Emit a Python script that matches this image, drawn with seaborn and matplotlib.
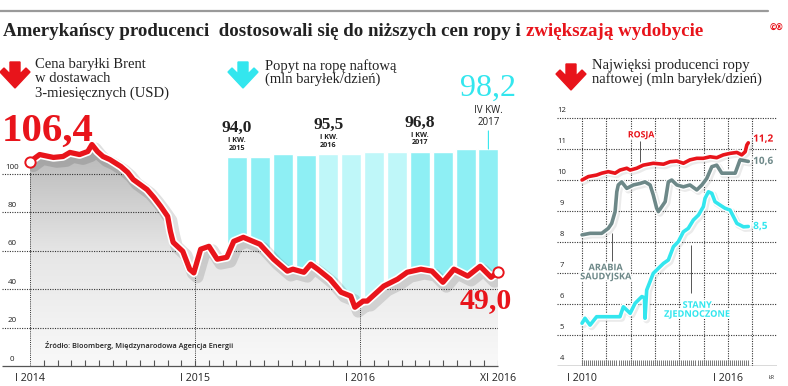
import numpy as np
import matplotlib
matplotlib.use("Agg")
import matplotlib.pyplot as plt
import matplotlib.patheffects as pe
import seaborn as sns
from matplotlib.colors import LinearSegmentedColormap
from matplotlib.patches import Polygon
from matplotlib.lines import Line2D

# --- data --------------------------------------------------------------
# Brent price, x = months since Jan 2014
brent_month = [0.0, 0.7, 1.7, 2.4, 2.9, 3.6, 4.2, 4.5, 4.9, 5.3,
               5.8, 6.6, 7.1, 7.5, 8.0, 8.5, 9.0, 9.5, 10.0, 10.2,
               10.4, 11.1, 11.6, 11.9, 12.4, 13.0, 13.6, 14.3, 14.8, 15.5,
               16.7, 17.7, 18.7, 19.1, 19.9, 20.4, 20.9, 21.8, 22.6, 23.3,
               23.6, 24.2, 24.5, 25.7, 26.7, 27.4, 28.4, 29.2, 30.0, 30.8,
               31.8, 32.7, 33.5, 34.0]
brent_price = [106.4, 110.1, 108.6, 109.1, 111.2, 110.1, 111.7, 115.3, 111.7, 109.1,
               107.5, 103.9, 100.8, 97.1, 94.5, 91.9, 87.8, 83.1, 77.9, 70.1,
               64.4, 59.7, 50.4, 48.5, 60.8, 62.3, 55.6, 56.6, 64.9, 67.0,
               63.4, 55.6, 49.4, 50.4, 48.8, 53.0, 50.4, 45.2, 38.4, 36.4,
               30.6, 33.8, 33.8, 41.6, 45.2, 48.8, 50.4, 49.4, 43.6, 50.4,
               46.8, 51.9, 46.2, 49.0]
price_ticks = [0, 12, 24, 34]
price_tick_labels = ["I 2014", "I 2015", "I 2016", "XI 2016"]
price_grid = [20, 40, 60, 80, 100]

# oil demand, quarterly
quarters = ["I 2015", "II 2015", "III 2015", "IV 2015",
            "I 2016", "II 2016", "III 2016", "IV 2016",
            "I 2017", "II 2017", "III 2017", "IV 2017"]
demand = [94.0, 94.3, 95.7, 95.4, 95.5, 95.6, 96.5, 96.8, 96.8, 96.5, 98.0, 98.2]
demand_labels = {0: ("I KW.", "2015"), 4: ("I KW.", "2016"), 8: ("I KW.", "2017")}

# largest producers, x = year
russia_year = [2010.0, 2010.26, 2010.6, 2010.81, 2011.08, 2011.36, 2011.56, 2011.84, 2011.98, 2012.25,
               2012.52, 2012.93, 2013.35, 2013.62, 2013.9, 2014.17, 2014.44, 2014.72, 2014.99, 2015.27,
               2015.54, 2015.81, 2016.09, 2016.37, 2016.57, 2016.71, 2016.78, 2016.84]
russia_prod = [10.0, 10.11, 10.16, 10.22, 10.27, 10.22, 10.32, 10.38, 10.32, 10.38,
               10.48, 10.54, 10.51, 10.59, 10.61, 10.54, 10.65, 10.7, 10.7, 10.75,
               10.72, 10.81, 10.86, 10.89, 10.81, 10.91, 11.13, 11.2]
saudi_year = [2010.0, 2010.33, 2010.81, 2011.08, 2011.22, 2011.36, 2011.43, 2011.49, 2011.63, 2011.84,
              2012.11, 2012.39, 2012.59, 2012.8, 2012.93, 2013.07, 2013.14, 2013.28, 2013.42, 2013.55,
              2013.69, 2013.9, 2014.17, 2014.44, 2014.72, 2014.93, 2015.13, 2015.34, 2015.54, 2015.75,
              2016.09, 2016.3, 2016.5, 2016.84]
saudi_prod = [8.23, 8.28, 8.28, 8.44, 8.6, 8.98, 9.62, 9.84, 9.94, 9.73,
              9.84, 9.89, 9.94, 9.84, 9.52, 9.09, 8.98, 9.14, 9.3, 9.94,
              10.0, 9.84, 9.78, 9.84, 9.68, 9.84, 10.05, 10.43, 10.48, 10.22,
              10.22, 10.22, 10.65, 10.6]
us_year = [2010.0, 2010.12, 2010.33, 2010.6, 2011.15, 2011.56, 2011.7, 2011.98, 2012.18, 2012.46,
           2012.57, 2012.59, 2012.66, 2012.93, 2013.14, 2013.35, 2013.55, 2013.76, 2013.96, 2014.17,
           2014.37, 2014.58, 2014.79, 2014.99, 2015.06, 2015.2, 2015.34, 2015.47, 2015.68, 2015.88,
           2016.09, 2016.37, 2016.64, 2016.84]
us_prod = [5.38, 5.54, 5.32, 5.59, 5.59, 5.59, 5.91, 5.7, 6.02, 6.24,
           6.2, 5.54, 6.45, 6.99, 7.15, 7.31, 7.42, 7.85, 8.01, 8.33,
           8.44, 8.71, 8.87, 9.14, 9.41, 9.62, 9.57, 9.3, 9.19, 9.09,
           9.03, 8.6, 8.49, 8.5]
prod_grid = [5, 6, 7, 8, 9, 10, 11, 12]
prod_years = [2010, 2011, 2012, 2013, 2014, 2015, 2016, 2017]

# --- style ----------------------------------------------------------------
RED = "#e8141b"
CYAN = "#33e6ee"
GRAYLINE = "#6d8888"
DARK = "#222222"
SERIF = "Liberation Serif"
SANS = "Open Sans"

sns.set_style("white")
plt.rcParams["font.family"] = [SANS, "DejaVu Sans"]

W, H = 788, 386
fig = plt.figure(figsize=(W / 100, H / 100), dpi=100)


def fbox(x0, y0, x1, y1):
    """pixel box (top-left origin) -> figure rect"""
    return [x0 / W, 1 - y1 / H, (x1 - x0) / W, (y1 - y0) / H]


def ftext(x, y, s, **kw):
    return fig.text(x / W, 1 - y / H, s, **kw)


def arrow(cx, top, color):
    shape = [(-5, 0), (5, 0), (5, 12), (11, 6), (15, 10), (0, 26),
             (-15, 10), (-11, 6), (-5, 12)]
    pts = [((cx + dx) / W, 1 - (top + dy) / H) for dx, dy in shape]
    fig.add_artist(Polygon(pts, closed=True, color=color, transform=fig.transFigure))


halo = [pe.Stroke(linewidth=2.5, foreground="white"), pe.Normal()]

# --- header -------------------------------------------------------------
fig.add_artist(Line2D([0, 768 / W], [1 - 11 / H] * 2, color="#9a9a9a", lw=1.6))
t1 = ftext(3, 31, "Amerykańscy producenci  dostosowali się do niższych cen ropy i ",
           family=SERIF, weight="bold", fontsize=13.6, color=DARK, va="center")
renderer = fig.canvas.get_renderer()
bb = t1.get_window_extent(renderer)
fig.text(bb.x1 / W, 1 - 31 / H, "zwiększają wydobycie", family=SERIF, weight="bold",
         fontsize=13.6, color=RED, va="center")
ftext(776, 28, "©®", color=RED, fontsize=6, weight="bold", ha="center", va="center")

arrow(15, 62, RED)
arrow(243, 62, CYAN)
arrow(571, 64, RED)
ftext(35, 58, "Cena baryłki Brent\nw dostawach\n3-miesięcznych (USD)", family=SERIF,
      fontsize=10.5, color=DARK, va="top", linespacing=1.12)
ftext(265, 59, "Popyt na ropę naftową\n(mln baryłek/dzień)", family=SERIF,
      fontsize=10.5, color=DARK, va="top", linespacing=0.98)
ftext(592, 59, "Najwięksi producenci ropy\nnaftowej (mln baryłek/dzień)", family=SERIF,
      fontsize=10.5, color=DARK, va="top", linespacing=0.98)

# --- demand bars (behind the price panel) --------------------------------
axb = fig.add_axes(fbox(30, 100, 498, 366))
bar_colors = ["#8eeff4"] * 4 + ["#bff7f9"] * 4 + ["#8eeff4"] * 4
sns.barplot(x=quarters, y=demand, hue=quarters, hue_order=quarters, order=quarters,
            palette=bar_colors, saturation=1, legend=False, width=0.875, ax=axb)
axb.set_xlim(-9.055, 11.42)
axb.set_ylim(-11.6, 123.0)
axb.axis("off")
for i, (kw, yr) in demand_labels.items():
    v = demand[i]
    axb.annotate(f"{v:.1f}".replace(".", ","), (i, v), xytext=(0, 21), textcoords="offset points",
                 ha="center", va="center", family=SERIF, weight="bold", fontsize=12.5, color=DARK,
                 annotation_clip=False)
    axb.annotate(kw, (i, v), xytext=(0, 12), textcoords="offset points", ha="center",
                 va="center", fontsize=5.2, weight="bold", color=DARK)
    axb.annotate(yr, (i, v), xytext=(0, 6.5), textcoords="offset points", ha="center",
                 va="center", fontsize=5.2, weight="bold", color=DARK)
last = len(demand) - 1
axb.annotate("", (last, demand[last]), xytext=(0, 13), textcoords="offset points",
             arrowprops=dict(arrowstyle="-", color=CYAN, lw=0.8, shrinkA=0, shrinkB=0))
axb.annotate("2017", (last, demand[last]), xytext=(0, 19), textcoords="offset points",
             ha="center", va="center", fontsize=7, color=DARK)
axb.annotate("IV KW.", (last, demand[last]), xytext=(0, 27.5), textcoords="offset points",
             ha="center", va="center", fontsize=7, color=DARK)
axb.annotate(f"{demand[last]:.1f}".replace(".", ","), (last, demand[last]), xytext=(0, 44),
             textcoords="offset points", ha="center", va="center", family=SERIF,
             fontsize=23, color=CYAN, annotation_clip=False)

# --- Brent price panel -------------------------------------------------------
ax = fig.add_axes(fbox(30, 100, 498, 366))
ax.set_zorder(axb.get_zorder() + 1)
ax.patch.set_visible(False)

area = ax.fill_between(brent_month, brent_price, 0, color="none", lw=0)
clip = area.get_paths()[0]
cmap = LinearSegmentedColormap.from_list("fade", ["#f9f9f9", "#e6e6e6", "#b4b4b4"])
grad = np.linspace(0, 1, 256).reshape(-1, 1)
im = ax.imshow(grad, extent=[0, 34, 0, 118], origin="lower", aspect="auto", cmap=cmap, zorder=1)
im.set_clip_path(clip, transform=ax.transData)

dots = (0, (1, 1.2))
hl = ax.hlines(price_grid, 0, 34, colors="#333333", linestyles=dots, lw=0.8, zorder=2)
hl.set_clip_path(clip, transform=ax.transData)
vl = ax.vlines([12, 24], 0, 118, colors="#333333", linestyles=dots, lw=0.7, zorder=2)
vl.set_clip_path(clip, transform=ax.transData)
ax.hlines(price_grid, -2.05, 0, colors="#333333", linestyles=dots, lw=0.8, clip_on=False)
ax.vlines(0, 0, 101, colors="#333333", linestyles=dots, lw=0.7)
ax.hlines(0, -2.05, 34, colors="#555555", lw=0.9, clip_on=False, zorder=3)
ax.vlines(np.arange(1, 35), 0, 3.1, colors="#555555", lw=0.8, zorder=3)
for v in [0] + price_grid:
    ax.text(-1.3, v + 3.6, str(v), ha="center", va="center", fontsize=5.8, color=DARK)

line_fx = [pe.SimpleLineShadow(offset=(2.5, -3), shadow_color="black", alpha=0.12, linewidth=9),
           pe.Stroke(linewidth=6.2, foreground="white"), pe.Normal()]
sns.lineplot(x=brent_month, y=brent_price, ax=ax, color=RED, lw=3.8, zorder=4,
             path_effects=line_fx)
ax.scatter([brent_month[0], brent_month[-1]], [brent_price[0], brent_price[-1]], s=55,
           facecolor="white", edgecolor=RED, lw=1.4, zorder=6, clip_on=False)
ax.text(-2.05, 122.4, f"{brent_price[0]:.1f}".replace(".", ","), family=SERIF, weight="bold",
        fontsize=29.5, color=RED, va="center", ha="left")
ax.text(33.1, 34.0, f"{brent_price[-1]:.1f}".replace(".", ","), family=SERIF, weight="bold",
        fontsize=21.5, color=RED, va="center", ha="center", zorder=6)
ax.text(1.1, 10.9, "Źródło: Bloomberg, Międzynarodowa Agencja Energii", fontsize=5.3,
        weight="semibold", color=DARK, va="center")

ax.set_xlim(0, 34)
ax.set_ylim(0, 138.5)
ax.set_xticks(price_ticks, price_tick_labels)
ax.set_yticks([])
ax.tick_params(axis="x", length=0, pad=5, labelsize=7.7, labelcolor=DARK)
sns.despine(ax=ax, left=True, bottom=True)
ax.set_xlabel("")
ax.set_ylabel("")

# --- producers panel -----------------------------------------------------
axr = fig.add_axes(fbox(557, 105, 777, 366))
axr.patch.set_visible(False)
axr.hlines(prod_grid, 2008.97, 2018.02, colors="#333333", linestyles=dots, lw=0.8)
axr.vlines(prod_years, 4, 12, colors="#333333", linestyles=dots, lw=0.8)
axr.hlines(4, 2008.97, 2018.02, colors="#444444", lw=1.0, zorder=3)
axr.vlines(np.arange(2010, 2016.85, 1 / 12), 4, 4.2, colors="#777777", lw=0.7, zorder=3)
for v in [4] + prod_grid:
    axr.text(2009.18, v + 0.23, str(v), ha="center", va="center", fontsize=5.5, color=DARK)

for yrs, vals, col in [(saudi_year, saudi_prod, GRAYLINE), (us_year, us_prod, CYAN),
                       (russia_year, russia_prod, RED)]:
    fx = [pe.SimpleLineShadow(offset=(1.2, -1.2), shadow_color="black", alpha=0.08, linewidth=5),
          pe.Stroke(linewidth=4.6, foreground="white"), pe.Normal()]
    sns.lineplot(x=yrs, y=vals, ax=axr, color=col, lw=2.6, zorder=4, path_effects=fx)
    axr.text(yrs[-1] + 0.2, vals[-1] + 0.12 * (col == RED), f"{vals[-1]:.1f}".replace(".", ","),
             color=col, fontsize=7.2, weight="bold", va="center", ha="left", path_effects=halo)

axr.text(2012.43, 11.45, "ROSJA", color=RED, fontsize=6.3, weight="bold", ha="center",
         va="center", path_effects=halo)
axr.vlines(2012.39, 10.58, 11.25, colors="#555555", lw=0.7)
axr.text(2010.97, 7.02, "ARABIA\nSAUDYJSKA", color=GRAYLINE, fontsize=6.6, weight="bold",
         ha="center", va="center", linespacing=1.0, zorder=5, path_effects=halo)
axr.vlines(2011.23, 7.4, 8.3, colors="#555555", lw=0.7)
axr.text(2014.73, 5.81, "STANY\nZJEDNOCZONE", color=CYAN, fontsize=6.6, weight="bold",
         ha="center", va="center", linespacing=1.0, zorder=5, path_effects=halo)
axr.vlines(2014.49, 6.35, 7.9, colors="#555555", lw=0.7)
axr.text(2017.82, 3.62, "ŁR", fontsize=3.8, color=DARK, ha="center", va="center")

axr.set_xlim(2008.97, 2018.02)
axr.set_ylim(4, 12.42)
axr.set_xticks([2010, 2016], ["I 2010", "I 2016"])
axr.set_yticks([])
axr.tick_params(axis="x", length=0, pad=5, labelsize=7.7, labelcolor=DARK)
sns.despine(ax=axr, left=True, bottom=True)
axr.set_xlabel("")
axr.set_ylabel("")

fig.savefig("out.png", dpi=100)
